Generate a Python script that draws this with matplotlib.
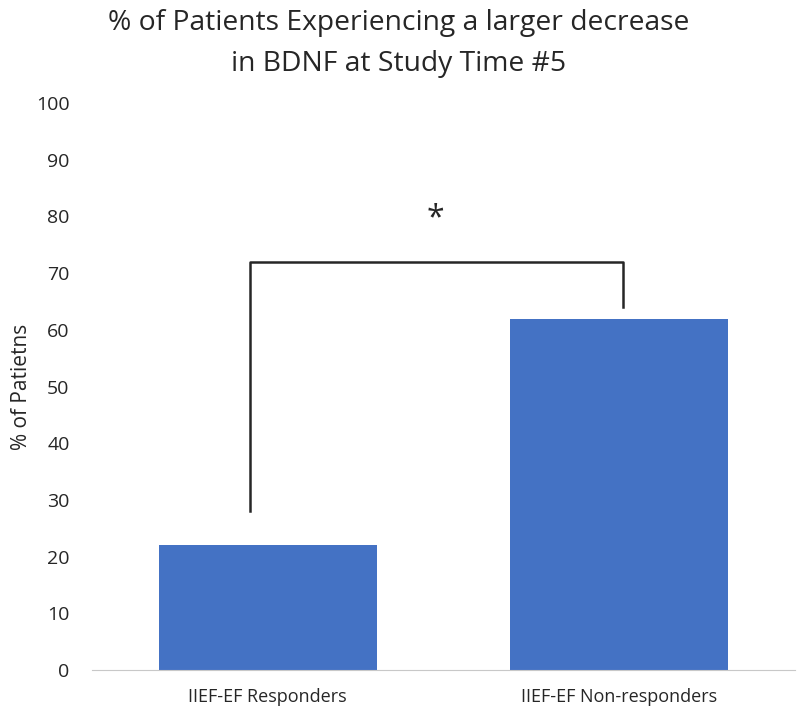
import matplotlib.pyplot as plt

# datos
categorias = ['IIEF-EF Responders', 'IIEF-EF Non-responders']
porcentajes = [22, 62]
yticks = [0, 10, 20, 30, 40, 50, 60, 70, 80, 90, 100]

plt.rcParams['font.family'] = ['Open Sans', 'DejaVu Sans']

fig = plt.figure(figsize=(7.98, 7.14), dpi=100)
ax = fig.add_axes([0.115, 0.0616, 0.881, 0.794])

x = range(len(categorias))
ax.bar(x, porcentajes, width=0.62, color='#4472C4')

ax.set_xlim(-0.5, 1.5)
ax.set_ylim(0, 100)
ax.set_yticks(yticks)
ax.set_xticks(list(x))
ax.set_xticklabels(categorias, fontsize=13, color='#262626')
ax.tick_params(axis='y', labelsize=14, colors='#262626', length=0, pad=16)
ax.tick_params(axis='x', length=0, pad=13)

for s in ['top', 'right', 'left']:
    ax.spines[s].set_visible(False)
ax.spines['bottom'].set_color('#c8c8c8')

ax.set_ylabel('% of Patietns', fontsize=15, color='#262626', labelpad=3)

# corchete de significancia
ax.plot([-0.05, -0.05, 1.01, 1.01], [28, 72, 72, 64], color='#262626', lw=1.8)
ax.text(0.477, 79.5, '*', ha='center', va='center', fontsize=23, color='#262626')

fig.suptitle('% of Patients Experiencing a larger decrease\nin BDNF at Study Time #5',
             fontsize=20.3, color='#262626', y=0.988, linespacing=1.65)

plt.savefig('out.png', dpi=100)
